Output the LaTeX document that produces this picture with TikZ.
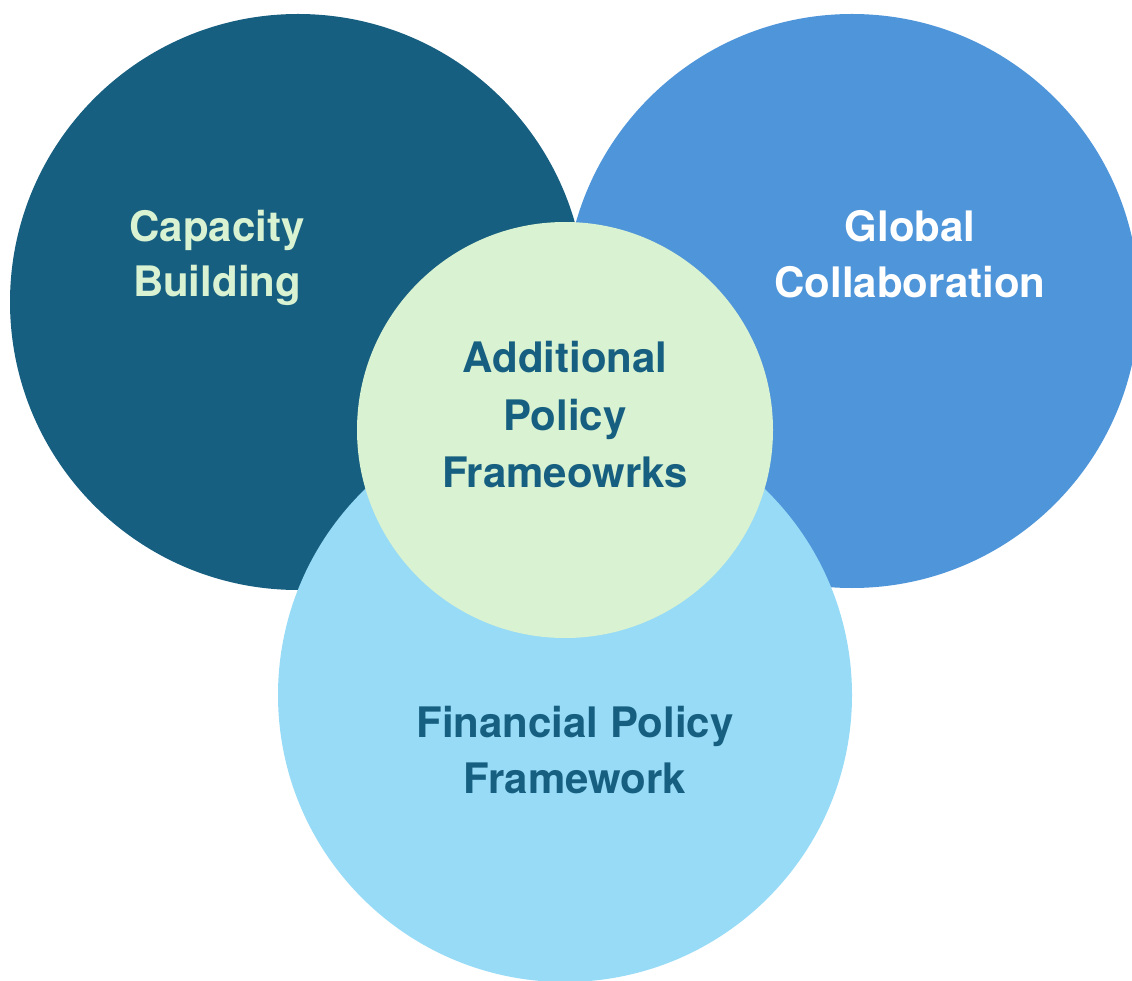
\documentclass[tikz,border=0pt]{standalone}
\usepackage{fontspec}
\setmainfont{TeX Gyre Heros}
\definecolor{darkteal}{HTML}{175F80}
\definecolor{midblue}{HTML}{4F95D9}
\definecolor{lightblue}{HTML}{97DBF6}
\definecolor{palegreen}{HTML}{D9F2D2}
\tikzset{
  disc/.style={circle, inner sep=0pt, minimum size=#1},
  lbl/.style={anchor=base, font=\fontsize{42}{56}\selectfont\bfseries, inner sep=0pt},
}
\begin{document}
\begin{tikzpicture}[x=1pt,y=-1pt]
\useasboundingbox (0,0) rectangle (1132,981);
\node[disc=576pt, fill=darkteal] (cap) at (298,302) {};
\node[disc=574pt, fill=midblue] (glob) at (852,301) {};
\node[disc=574pt, fill=lightblue] (fin) at (565,695) {};
\node[disc=416pt, fill=palegreen] (add) at (565,430) {};
\node[lbl, text=palegreen] (cap1) at (217,242) {Capacity};
\node[lbl, text=palegreen] (cap2) at (217,297) {Building};
\node[lbl, text=white] (glob1) at (910,242) {Global};
\node[lbl, text=white] (glob2) at (910,298) {Collaboration};
\node[lbl, text=darkteal] (add1) at (565,373) {Additional};
\node[lbl, text=darkteal] (add2) at (565,430) {Policy};
\node[lbl, text=darkteal] (add3) at (565,487) {Frameowrks};
\node[lbl, text=darkteal] (fin1) at (575,737) {Financial Policy};
\node[lbl, text=darkteal] (fin2) at (575,793) {Framework};
\end{tikzpicture}
\end{document}
